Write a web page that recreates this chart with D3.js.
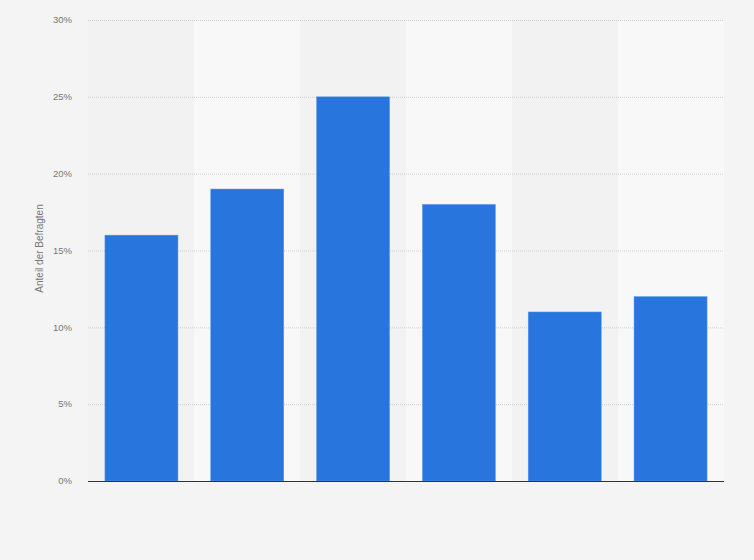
<!DOCTYPE html>
<html>
<head>
<meta charset="utf-8">
<script src="https://cdn.jsdelivr.net/npm/d3@7"></script>
<style>
  html, body { margin: 0; padding: 0; background: #f4f4f4; }
  svg { display: block; font-family: 'Liberation Sans', Arial, sans-serif; }
</style>
</head>
<body>
<svg id="chart" width="754" height="560"></svg>
<script>
// categories have no visible labels in the reference
const categories = ['1', '2', '3', '4', '5', '6']
const values = [16, 19, 25, 18, 11, 12]
const yTicks = [0, 5, 10, 15, 20, 25, 30]
const yTitle = 'Anteil der Befragten'

const svg = d3.select('#chart')
const margin = { top: 20, right: 30, bottom: 79, left: 88 }
const width = 754 - margin.left - margin.right
const height = 560 - margin.top - margin.bottom

const g = svg.append('g').attr('transform', `translate(${margin.left},${margin.top})`)

const x = d3.scaleBand().domain(categories).range([0, width]).paddingInner(0.31).paddingOuter(0.16)
const xBand = d3.scaleBand().domain(categories).range([0, width])
const y = d3.scaleLinear().domain([0, 30]).range([height, 0])

// alternating column bands
g.append('g').selectAll('rect')
  .data(categories)
  .join('rect')
  .attr('x', d => xBand(d))
  .attr('y', 0)
  .attr('width', xBand.bandwidth())
  .attr('height', height)
  .attr('fill', (d, i) => i % 2 ? '#f8f8f8' : '#f2f2f2')

// gridlines
g.append('g').selectAll('line')
  .data(yTicks.filter(t => t > 0))
  .join('line')
  .attr('x1', 0)
  .attr('x2', width)
  .attr('y1', d => y(d) + 0.5)
  .attr('y2', d => y(d) + 0.5)
  .attr('stroke', '#cfcfcf')
  .attr('stroke-width', 1)
  .attr('stroke-dasharray', '1,1')

// tick labels
g.append('g').selectAll('text')
  .data(yTicks)
  .join('text')
  .attr('x', -16)
  .attr('y', d => y(d))
  .attr('dy', '0.35em')
  .attr('text-anchor', 'end')
  .attr('fill', '#777')
  .style('font-size', '9.5px')
  .text(d => d + '%')

// bars
g.append('g').selectAll('rect')
  .data(values)
  .join('rect')
  .attr('x', (d, i) => x(categories[i]))
  .attr('y', d => y(d))
  .attr('width', x.bandwidth())
  .attr('height', d => height - y(d))
  .attr('fill', '#2876dd')
  .attr('stroke', '#5b9be8')
  .attr('stroke-width', 0.5)

// baseline
g.append('line')
  .attr('x1', 0)
  .attr('x2', width)
  .attr('y1', height + 0.5)
  .attr('y2', height + 0.5)
  .attr('stroke', '#333')
  .attr('stroke-width', 1.2)

// y axis title
svg.append('text')
  .attr('transform', `translate(43,${margin.top + height / 2 - 2}) rotate(-90)`)
  .attr('text-anchor', 'middle')
  .attr('fill', '#777')
  .style('font-size', '10px')
  .text(yTitle)
</script>
</body>
</html>
